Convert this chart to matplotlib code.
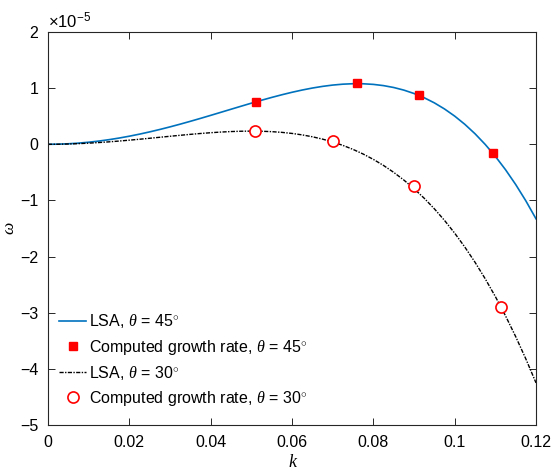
import matplotlib
matplotlib.use("Agg")
import matplotlib.pyplot as plt

plt.rcParams['font.family'] = ['Liberation Sans', 'DejaVu Sans']
plt.rcParams['mathtext.fontset'] = 'custom'
plt.rcParams['mathtext.it'] = 'Liberation Serif:italic'
plt.rcParams['mathtext.rm'] = 'Liberation Sans'

# wavenumber samples
k = [0.0000, 0.0025, 0.0050, 0.0075, 0.0100, 0.0125, 0.0150, 0.0175, 0.0200, 0.0225,
     0.0250, 0.0275, 0.0300, 0.0325, 0.0350, 0.0375, 0.0400, 0.0425, 0.0450, 0.0475,
     0.0500, 0.0525, 0.0550, 0.0575, 0.0600, 0.0625, 0.0650, 0.0675, 0.0700, 0.0725,
     0.0750, 0.0775, 0.0800, 0.0825, 0.0850, 0.0875, 0.0900, 0.0925, 0.0950, 0.0975,
     0.1000, 0.1025, 0.1050, 0.1075, 0.1100, 0.1125, 0.1150, 0.1175, 0.1200]
# LSA growth rate, theta = 45 deg (x1e-5)
lsa45 = [0.0, 0.0023, 0.0093, 0.0209, 0.0371, 0.0576, 0.0825, 0.1115, 0.1444, 0.1810,
         0.2211, 0.2643, 0.3103, 0.3588, 0.4095, 0.4618, 0.5154, 0.5698, 0.6244, 0.6788,
         0.7325, 0.7847, 0.8349, 0.8824, 0.9266, 0.9667, 1.0020, 1.0316, 1.0550, 1.0710,
         1.0791, 1.0781, 1.0672, 1.0454, 1.0118, 0.9653, 0.9049, 0.8295, 0.7381, 0.6293,
         0.5022, 0.3555, 0.1879, -0.0018, -0.2148, -0.4526, -0.7164, -1.0076, -1.3277]
# LSA growth rate, theta = 30 deg (x1e-5)
lsa30 = [0.0, 0.0013, 0.0053, 0.0117, 0.0203, 0.0311, 0.0437, 0.0579, 0.0735, 0.0901,
         0.1075, 0.1252, 0.1430, 0.1604, 0.1771, 0.1926, 0.2063, 0.2180, 0.2270, 0.2328,
         0.2349, 0.2326, 0.2253, 0.2126, 0.1936, 0.1677, 0.1342, 0.0924, 0.0414, -0.0192,
         -0.0906, -0.1735, -0.2687, -0.3770, -0.4995, -0.6369, -0.7903, -0.9606, -1.1489, -1.3559,
         -1.5830, -1.8311, -2.1013, -2.3947, -2.7124, -3.0557, -3.4257, -3.8236, -4.2500]
# computed growth rates
k45 = [0.0512, 0.0760, 0.0913, 0.1093]
w45 = [0.76, 1.09, 0.87, -0.15]
k30 = [0.0509, 0.0702, 0.0900, 0.1113]
w30 = [0.235, 0.06, -0.75, -2.90]

xticks = [0, 0.02, 0.04, 0.06, 0.08, 0.1, 0.12]
xticklabels = ['0', '0.02', '0.04', '0.06', '0.08', '0.1', '0.12']
yticks = [-5, -4, -3, -2, -1, 0, 1, 2]

FS = 11.5

fig = plt.figure(figsize=(5.53, 4.73), dpi=100)
ax = fig.add_axes([0.0868, 0.1015, 0.8825, 0.8308])

ax.plot(k, lsa45, color='#0072BD', lw=1.2, label=r'LSA, $\theta$ = 45$^{\circ}$')
ax.plot(k45, w45, 's', color='red', ms=6, mec='red', lw=0,
        label=r'Computed growth rate, $\theta$ = 45$^{\circ}$')
ax.plot(k, lsa30, color='black', lw=1.0, linestyle=(0, (3, 1, 1, 1)),
        label=r'LSA, $\theta$ = 30$^{\circ}$')
ax.plot(k30, w30, 'o', mfc='white', mec='red', ms=8, mew=1.2, lw=0,
        label=r'Computed growth rate, $\theta$ = 30$^{\circ}$')

ax.set_xlim(0, 0.12)
ax.set_ylim(-5, 2)
ax.set_xticks(xticks)
ax.set_xticklabels(xticklabels)
ax.set_yticks(yticks)
ax.tick_params(direction='in', length=5, width=0.7, top=True, right=True,
               labelsize=FS, colors='#262626', labelcolor='black', pad=7)
for s in ax.spines.values():
    s.set_color('#262626')
    s.set_linewidth(0.8)

ax.text(0.0, 1.004, r'$\times\mathregular{10^{-5}}$', transform=ax.transAxes,
        ha='left', va='bottom', fontsize=FS + 0.5)

ax.set_xlabel('k', fontsize=13, family='Liberation Serif', style='italic', labelpad=3)
ax.set_ylabel(r'$\omega$', fontsize=12.5, labelpad=2)

ax.legend(loc='lower left', bbox_to_anchor=(0.0, 0.015), frameon=False, fontsize=FS,
          handlelength=1.7, handletextpad=0.15, labelspacing=0.45, borderaxespad=0.3)

fig.savefig('out.png', dpi=100)
